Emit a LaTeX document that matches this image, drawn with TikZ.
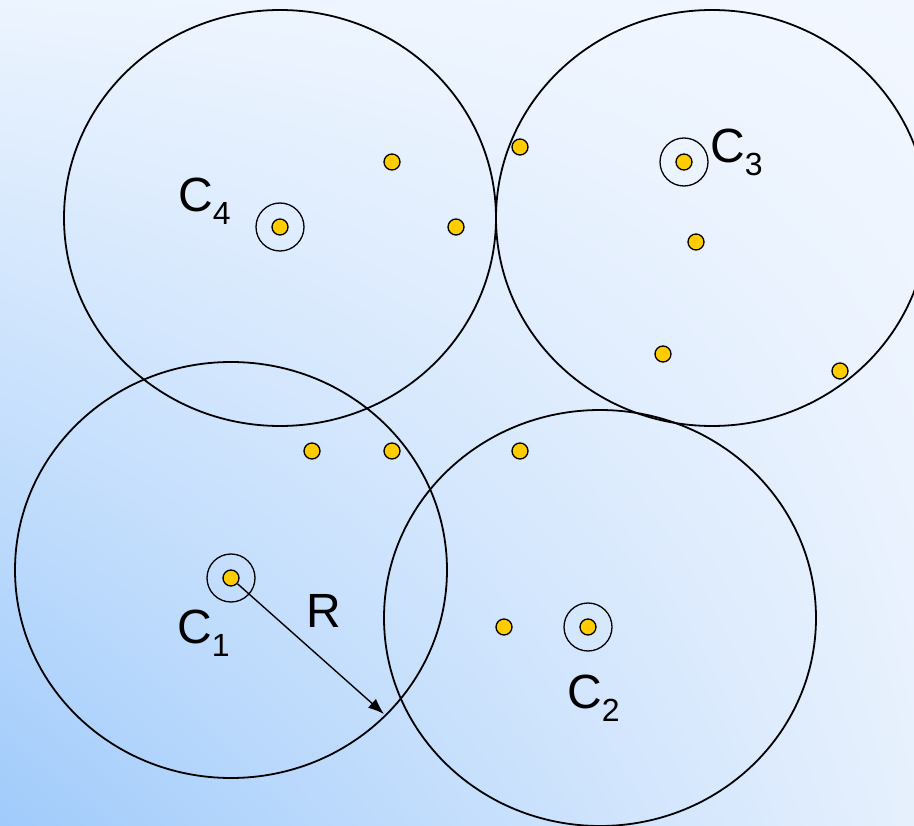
\documentclass[tikz,border=0pt]{standalone}
\usepackage{fontspec}
\setmainfont{Liberation Sans}
\usetikzlibrary{arrows.meta,shadings}
\definecolor{bgll}{RGB}{160,203,251}
\definecolor{bgul}{RGB}{236,244,254}
\definecolor{bglr}{RGB}{230,240,253}
\definecolor{bgur}{RGB}{242,247,255}
\definecolor{dotyellow}{RGB}{255,204,0}
\tikzset{
  cluster/.style={draw=black, line width=1.8pt},
  pt/.style={circle, draw=black, line width=1.3pt, fill=dotyellow, minimum size=16pt, inner sep=0pt},
  ring/.style={circle, draw=black, line width=1.3pt, minimum size=48pt, inner sep=0pt},
  lbl/.style={anchor=base west, inner sep=0pt, font=\fontsize{48}{48}\selectfont},
  radarrow/.style={line width=1.4pt, -{Latex[length=16pt,width=12pt]}}
}
\newcommand{\subtxt}[1]{\raisebox{-13pt}{\fontsize{32}{32}\selectfont #1}}
\begin{document}
\begin{tikzpicture}[x=1pt,y=-1pt]
\useasboundingbox (0,0) rectangle (914,826);
\shade[lower left=bgll, upper left=bgul, lower right=bglr, upper right=bgur] (0,826) rectangle (914,0);
\begin{scope}
\clip (0,0) rectangle (914,826);
\draw[cluster] (280,218) ellipse [x radius=216pt, y radius=208pt];
\draw[cluster] (712,218) ellipse [x radius=216pt, y radius=208pt];
\draw[cluster] (231,570) ellipse [x radius=216pt, y radius=208pt];
\draw[cluster] (600,618) ellipse [x radius=216pt, y radius=208pt];
\end{scope}
% centers with rings
\node[ring] (r4) at (280,227) {};
\node[ring] (r3) at (684,162) {};
\node[ring] (r1) at (231,578) {};
\node[ring] (r2) at (588,627) {};
\node[pt] (c4) at (280,227) {};
\node[pt] (c3) at (684,162) {};
\node[pt] (c1) at (231,578) {};
\node[pt] (c2) at (588,627) {};
% other points
\node[pt] (p1) at (392,162) {};
\node[pt] (p2) at (456,227) {};
\node[pt] (p3) at (520,147) {};
\node[pt] (p4) at (696,242) {};
\node[pt] (p5) at (663,354) {};
\node[pt] (p6) at (840,371) {};
\node[pt] (p7) at (312,451) {};
\node[pt] (p8) at (392,451) {};
\node[pt] (p9) at (520,451) {};
\node[pt] (p10) at (504,627) {};
% labels
\node[lbl] (l4) at (178,212) {C\subtxt{4}};
\node[lbl] (l3) at (710,163) {C\subtxt{3}};
\node[lbl] (l1) at (177,643) {C\subtxt{1}};
\node[lbl] (l2) at (567,708) {C\subtxt{2}};
\node[lbl] (lr) at (306,627) {R};
% radius arrow
\coordinate (rtip) at (384,714);
\draw[radarrow] (c1) -- (rtip);
\end{tikzpicture}
\end{document}
